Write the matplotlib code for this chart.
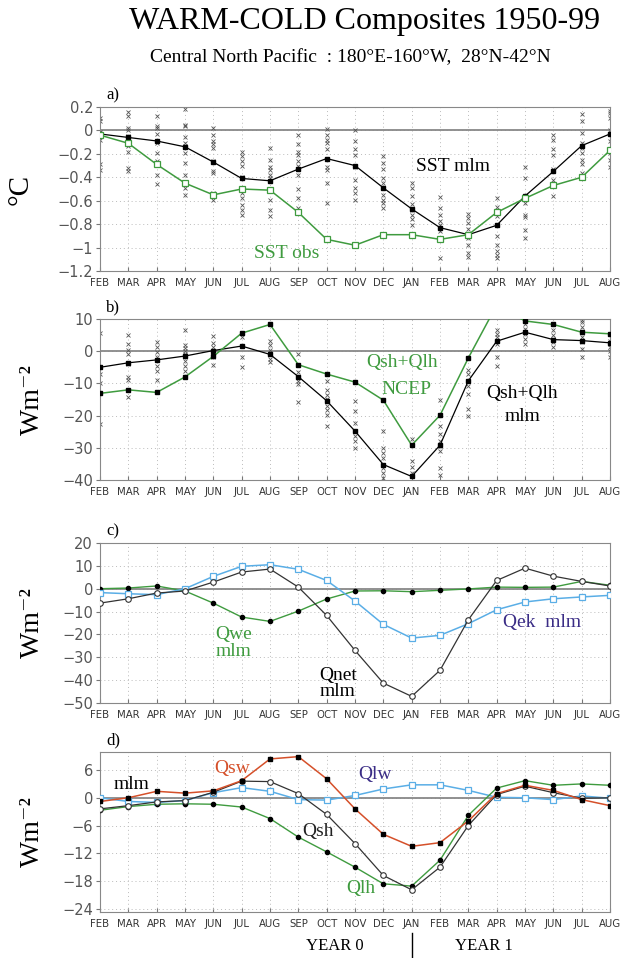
import matplotlib
matplotlib.use("Agg")
import matplotlib.pyplot as plt
import numpy as np

months = ["FEB", "MAR", "APR", "MAY", "JUN", "JUL", "AUG", "SEP", "OCT", "NOV",
          "DEC", "JAN", "FEB", "MAR", "APR", "MAY", "JUN", "JUL", "AUG"]

# Panel a (deg C)
sst_mlm = [-0.03, -0.06, -0.09, -0.14, -0.27, -0.41, -0.43, -0.33, -0.24, -0.30,
           -0.49, -0.67, -0.83, -0.89, -0.81, -0.56, -0.35, -0.13, -0.03]
sst_obs = [-0.04, -0.11, -0.29, -0.45, -0.55, -0.50, -0.51, -0.70, -0.93, -0.98,
           -0.89, -0.89, -0.93, -0.89, -0.70, -0.58, -0.47, -0.40, -0.17]
sst_members = [
    [0.11, 0.08, -0.01, -0.04, -0.08, -0.29, -0.34],
    [0.16, 0.12, 0.02, 0.0, -0.05, -0.08, -0.13, -0.18, -0.32, -0.35],
    [0.12, 0.04, 0.02, -0.03, -0.11, -0.19, -0.26, -0.38, -0.46],
    [0.18, 0.05, 0.04, -0.06, -0.11, -0.13, -0.19, -0.28, -0.38, -0.49, -0.55],
    [0.02, -0.04, -0.09, -0.12, -0.15, -0.26, -0.35, -0.36, -0.53, -0.59],
    [-0.18, -0.22, -0.26, -0.30, -0.40, -0.53, -0.58, -0.64, -0.68, -0.72],
    [-0.15, -0.25, -0.31, -0.34, -0.38, -0.41, -0.43, -0.51, -0.59, -0.68, -0.73],
    [-0.04, -0.12, -0.18, -0.21, -0.26, -0.30, -0.33, -0.38, -0.50, -0.58, -0.66],
    [0.01, -0.04, -0.08, -0.11, -0.16, -0.24, -0.31, -0.34, -0.45, -0.62],
    [0.0, -0.09, -0.16, -0.21, -0.31, -0.42, -0.49, -0.53, -0.59],
    [-0.22, -0.28, -0.33, -0.41, -0.45, -0.49, -0.55, -0.59, -0.62, -0.66],
    [-0.45, -0.49, -0.56, -0.63, -0.68, -0.72, -0.76, -0.81],
    [-0.57, -0.66, -0.72, -0.77, -0.81, -0.86, -0.92, -1.09],
    [-0.71, -0.75, -0.79, -0.84, -0.88, -0.92, -0.98, -1.05, -1.08],
    [-0.58, -0.65, -0.73, -0.81, -0.90, -0.98, -1.03, -1.06, -1.09],
    [-0.31, -0.41, -0.62, -0.72, -0.74, -0.85, -0.92],
    [-0.04, -0.08, -0.16, -0.21, -0.33, -0.42, -0.56],
    [0.14, 0.08, -0.02, -0.11, -0.15, -0.19, -0.25, -0.29, -0.36],
    [0.17, 0.15, 0.11, 0.0, -0.09, -0.19, -0.25, -0.31],
]

# Panel b (W m-2)
qshqlh_mlm = [-5.0, -3.6, -2.7, -1.5, 0.2, 1.6, -1.0, -7.9, -15.4, -24.8,
              -35.2, -38.9, -29.2, -9.2, 3.1, 5.9, 3.6, 3.3, 2.6]
qshqlh_ncep = [-13.1, -12.0, -12.8, -8.0, -1.6, 5.6, 8.3, -4.2, -7.1, -9.6,
               -15.2, -29.2, -19.9, -2.1, 14.3, 9.4, 8.3, 5.9, 5.4]
flux_members = [
    [5.6, -4.8, -7.0, -10.0, -22.7],
    [4.9, 2.3, 0.4, -0.8, -4.0, -8.0, -9.0, -14.2],
    [2.8, 1.2, -0.3, -1.9, -4.5, -6.0, -9.0],
    [6.7, 1.8, 0.9, 0.2, -0.8, -2.9, -4.5, -6.0],
    [4.6, 2.5, 1.2, 0.0, -0.8, -1.9, -4.2],
    [5.6, 4.4, -1.9, -5.0],
    [3.3, 1.8, 0.4, -0.8, -2.4, -3.4],
    [-0.8, -6.5, -7.9, -9.2, -10.2, -15.9],
    [-9.2, -11.9, -13.5, -14.8, -16.9, -18.3, -19.9, -23.2],
    [-15.4, -18.5, -22.2, -24.8, -26.4, -28.0, -30.0],
    [-24.8, -30.0, -31.5, -33.1, -36.3, -37.8, -39.4],
    [-27.4, -29.0, -34.0, -36.0, -37.8, -38.9],
    [-15.2, -23.2, -25.8, -27.9, -29.5, -31.0, -36.3, -38.3],
    [-5.8, -7.1, -9.2, -10.7, -13.3, -18.0, -20.1],
    [6.5, 5.4, 4.4, 3.3, 2.3, -1.9, -4.5],
    [9.8, 8.5, 6.9, 5.4, 3.8, 2.3],
    [8.5, 6.5, 4.9, 3.8, 2.8, 1.2],
    [9.8, 9.1, 7.5, 5.9, 4.4, 2.8, 0.7, -1.7],
    [5.4, 3.3, 2.3, 1.2, 0.2, -1.9],
]

# Panel c (W m-2)
qnet_mlm = [-6.3, -4.4, -1.9, -1.0, 2.9, 7.3, 8.6, 0.7, -11.7, -27.0,
            -41.3, -47.1, -35.7, -13.6, 3.6, 9.0, 5.5, 3.2, 1.2]
qek_mlm = [-1.7, -2.2, -2.6, 0.0, 5.4, 9.8, 10.5, 8.5, 3.6, -5.4,
           -15.6, -21.6, -20.4, -15.3, -9.2, -5.8, -4.4, -3.6, -2.9]
qwe_mlm = [0.0, 0.3, 1.2, -1.0, -6.3, -12.4, -14.3, -9.8, -4.5, -1.0,
           -0.9, -1.3, -0.7, -0.1, 0.7, 0.6, 0.7, 3.2, 1.5]

# Panel d (W m-2)
qsw_mlm = [-0.8, 0.0, 1.4, 1.0, 1.5, 3.7, 8.4, 8.9, 4.1, -2.4,
           -7.9, -10.5, -9.7, -5.0, 0.9, 2.7, 1.6, -0.4, -1.7]
qlw_mlm = [0.0, -0.8, -1.0, -0.6, 1.1, 2.2, 1.4, -0.4, -0.5, 0.5,
           1.9, 2.8, 2.8, 1.6, 0.1, 0.0, -0.4, 0.4, -0.1]
qsh_mlm = [-2.4, -1.7, -0.9, -0.6, 1.2, 3.6, 3.5, 0.9, -3.6, -9.9,
           -16.8, -19.9, -15.0, -6.0, 0.7, 2.5, 1.1, -0.1, 0.0]
qlh_mlm = [-2.7, -1.9, -1.4, -1.3, -1.4, -2.0, -4.5, -8.5, -11.7, -15.0,
           -18.6, -19.1, -13.5, -3.8, 2.1, 3.7, 2.7, 3.0, 2.7]

ylims = [(-1.2, 0.2), (-40, 10), (-50, 20), (-24.7, 9.9)]
yticks = [[0.2, 0, -0.2, -0.4, -0.6, -0.8, -1, -1.2],
          [10, 0, -10, -20, -30, -40],
          [20, 10, 0, -10, -20, -30, -40, -50],
          [6, 0, -6, -12, -18, -24]]
yticklabels = [["0.2", "0", "\u22120.2", "\u22120.4", "\u22120.6", "\u22120.8", "\u22121", "\u22121.2"],
               ["10", "0", "\u221210", "\u221220", "\u221230", "\u221240"],
               ["20", "10", "0", "\u221210", "\u221220", "\u221230", "\u221240", "\u221250"],
               ["6", "0", "\u22126", "\u221212", "\u221218", "\u221224"]]

GREEN = "#3f9b3f"
BLUE = "#5aaee6"
RED = "#d5502a"
PURPLE = "#3b2d86"
SERIF = ["Liberation Serif", "DejaVu Serif"]

fig = plt.figure(figsize=(6.22, 9.58), dpi=100)
W, H = 622.0, 958.0
boxes = [(107, 271), (319, 480), (543, 703), (752, 912)]
x = np.arange(len(months))
axes = []
for (top, bot) in boxes:
    ax = fig.add_axes([100 / W, 1 - bot / H, 510 / W, (bot - top) / H])
    axes.append(ax)

for i, ax in enumerate(axes):
    ax.set_xlim(0, len(months) - 1)
    ax.set_ylim(*ylims[i])
    ax.set_xticks(x)
    ax.set_xticklabels(months, fontsize=7.3, color="#333333",
                       family=["Liberation Sans Narrow", "DejaVu Sans"])
    ax.set_yticks(yticks[i])
    ax.set_yticklabels(yticklabels[i], fontsize=10.5, color="#555555",
                       family=["DejaVu Sans"])
    ax.tick_params(axis="x", direction="in", length=3, color="#777777", pad=5)
    ax.tick_params(axis="y", direction="out", length=3, color="#777777", pad=2)
    ax.grid(True, linestyle=(0, (1, 3)), color="#bbbbbb", linewidth=0.7)
    ax.set_axisbelow(True)
    for s in ax.spines.values():
        s.set_color("#888888")
        s.set_linewidth(0.8)
    ax.axhline(0, color="#888888", linewidth=1.3, zorder=1)

# panel a
ax = axes[0]
for m, vals in enumerate(sst_members):
    ax.plot([x[m]] * len(vals), vals, linestyle="none", marker="x", ms=2.5,
            mew=0.6, color="#555555", zorder=2)
ax.plot(x, sst_mlm, color="black", lw=0.9, marker="s", ms=3, mfc="black", zorder=3)
ax.plot(x, sst_obs, color=GREEN, lw=1.1, marker="s", ms=4.5, mfc="white",
        mec=GREEN, mew=0.9, zorder=3)
ax.text(12.45, -0.31, "SST mlm", fontsize=14, family=SERIF, color="black", ha="center", va="center")
ax.text(6.6, -1.05, "SST obs", fontsize=14, family=SERIF, color=GREEN, ha="center", va="center")
ax.set_ylabel("\u00b0C", fontsize=21, family=SERIF)
ax.yaxis.set_label_coords(-0.131, 0.5)

# panel b
ax = axes[1]
for m, vals in enumerate(flux_members):
    ax.plot([x[m]] * len(vals), vals, linestyle="none", marker="x", ms=2.5,
            mew=0.6, color="#555555", zorder=2)
ax.plot(x, qshqlh_mlm, color="black", lw=0.9, marker="s", ms=3, mfc="black", zorder=3)
ax.plot(x, qshqlh_ncep, color=GREEN, lw=1.1, marker="s", ms=3, mfc="black",
        mec="black", zorder=3)
ax.text(10.65, -3.4, "Qsh+Qlh", fontsize=14, family=SERIF, color=GREEN, ha="center", va="center")
ax.text(10.8, -11.8, "NCEP", fontsize=14, family=SERIF, color=GREEN, ha="center", va="center")
ax.text(14.9, -13.0, "Qsh+Qlh", fontsize=14, family=SERIF, color="black", ha="center", va="center")
ax.text(14.9, -20.2, "mlm", fontsize=14, family=SERIF, color="black", ha="center", va="center")

# panel c
ax = axes[2]
ax.plot(x, qwe_mlm, color=GREEN, lw=1.0, marker="o", ms=3, mfc="black", mec="black", zorder=3)
ax.plot(x, qek_mlm, color=BLUE, lw=1.1, marker="s", ms=4.5, mfc="white", mec=BLUE, mew=0.9, zorder=3)
ax.plot(x, qnet_mlm, color="#333333", lw=0.9, marker="o", ms=4, mfc="white", mec="#333333", mew=0.8, zorder=4)
ax.text(4.7, -23.6, "Qwe\nmlm", fontsize=14, family=SERIF, color=GREEN, ha="center",
        va="center", linespacing=1.0)
ax.text(8.4, -41.6, "Qnet\nmlm", fontsize=14, family=SERIF, color="black", ha="center",
        va="center", linespacing=0.95)
ax.text(15.6, -14.6, "Qek  mlm", fontsize=14, family=SERIF, color=PURPLE, ha="center", va="center")

# panel d
ax = axes[3]
ax.plot(x, qlw_mlm, color=BLUE, lw=1.1, marker="s", ms=4.5, mfc="white", mec=BLUE, mew=0.9, zorder=3)
ax.plot(x, qlh_mlm, color=GREEN, lw=1.0, marker="o", ms=3, mfc="black", mec="black", zorder=3)
ax.plot(x, qsh_mlm, color="#333333", lw=0.9, marker="o", ms=4, mfc="white", mec="#333333", mew=0.8, zorder=4)
ax.plot(x, qsw_mlm, color=RED, lw=1.1, marker="s", ms=3, mfc="black", mec="black", zorder=4)
ax.text(1.1, 2.9, "mlm", fontsize=14, family=SERIF, color="black", ha="center", va="center")
ax.text(4.65, 6.4, "Qsw", fontsize=14, family=SERIF, color=RED, ha="center", va="center")
ax.text(9.7, 5.0, "Qlw", fontsize=14, family=SERIF, color=PURPLE, ha="center", va="center")
ax.text(7.7, -7.2, "Qsh", fontsize=14, family=SERIF, color="#222222", ha="center", va="center")
ax.text(9.2, -19.7, "Qlh", fontsize=14, family=SERIF, color=GREEN, ha="center", va="center")

for ax in axes[1:]:
    ax.set_ylabel("Wm\u207b\u00b2", fontsize=20, family=SERIF)
    ax.yaxis.set_label_coords(-0.108, 0.5)

# panel letters
for lab, (top, bot) in zip(["a)", "b)", "c)", "d)"], boxes):
    fig.text(106 / W, 1 - (top - 12) / H, lab, fontsize=12, family=SERIF, ha="left", va="center")

fig.text(365 / W, 1 - 22 / H, "WARM-COLD Composites 1950-99", fontsize=23, family=SERIF,
         ha="center", va="center")
fig.text(350 / W, 1 - 58 / H, "Central North Pacific  : 180\u00b0E-160\u00b0W,  28\u00b0N-42\u00b0N",
         fontsize=14, family=SERIF, ha="center", va="center")
fig.text(335 / W, 1 - 946 / H, "YEAR 0", fontsize=12, family=SERIF, ha="center", va="center")
fig.text(484 / W, 1 - 946 / H, "YEAR 1", fontsize=12, family=SERIF, ha="center", va="center")
fig.add_artist(plt.Line2D([412 / W, 412 / W], [1 - 933 / H, 1 - 957 / H], color="black", lw=1.0))

fig.savefig("out.png", dpi=100)
